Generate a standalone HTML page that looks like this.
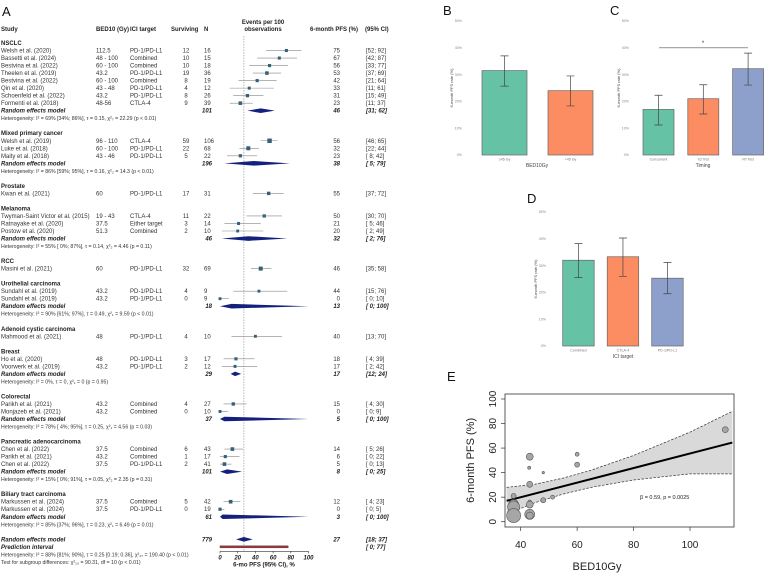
<!DOCTYPE html>
<html><head><meta charset="utf-8"><style>
html,body{margin:0;padding:0;background:#fff;}
svg{display:block;font-family:"Liberation Sans",sans-serif;}
</style></head><body>
<svg id="fig" width="764" height="575" viewBox="0 0 764 575" xmlns="http://www.w3.org/2000/svg">
<g id="forest"></g>
<g id="bars"></g>
<g id="scatter"></g>
</svg>
<script>
// ---------- Forest plot data ----------
const studyEst = [75,67,56,53,42,33,31,23, 56,32,23, 55, 50,21,20, 46, 44,0, 40, 18,17, 15,0, 14,6,5, 12,0];
const studyLo  = [52,42,33,37,21,11,15,11, 46,22,8, 37, 30,5,2, 35, 15,0, 13, 4,2, 4,0, 5,0,0, 4,0];
const studyHi  = [92,87,77,69,64,61,49,37, 65,44,42, 72, 70,46,49, 58, 76,10, 70, 39,42, 30,9, 26,22,13, 23,5];
const studyN   = [16,15,18,36,19,12,26,39, 106,68,22, 31, 22,14,10, 69, 9,9, 10, 17,12, 27,10, 43,17,41, 42,19];
const remEst = [46,38,32,13,17,5,8,3,27];
const remLo  = [31,5,2,0,12,0,0,0,18];
const remHi  = [62,79,76,100,24,100,25,100,37];
const predLo = 0, predHi = 77;
const forestTicks = [0,20,40,60,80,100];

// table rows (text)
const rows = [
 {t:'g',s:'NSCLC'},
 {t:'s',s:'Welsh et al. (2020)',b:'112.5',i:'PD-1/PD-L1',v:'12',n:'16',p:'75',c:'[52; 92]'},
 {t:'s',s:'Bassetti et al. (2024)',b:'48 - 100',i:'Combined',v:'10',n:'15',p:'67',c:'[42; 87]'},
 {t:'s',s:'Bestvina et al. (2022)',b:'60 - 100',i:'Combined',v:'10',n:'18',p:'56',c:'[33; 77]'},
 {t:'s',s:'Theelen et al. (2019)',b:'43.2',i:'PD-1/PD-L1',v:'19',n:'36',p:'53',c:'[37; 69]'},
 {t:'s',s:'Bestvina et al. (2022)',b:'60 - 100',i:'Combined',v:'8',n:'19',p:'42',c:'[21; 64]'},
 {t:'s',s:'Qin et al. (2020)',b:'43 - 48',i:'PD-1/PD-L1',v:'4',n:'12',p:'33',c:'[11; 61]'},
 {t:'s',s:'Schoenfeld et al. (2022)',b:'43.2',i:'PD-1/PD-L1',v:'8',n:'26',p:'31',c:'[15; 49]'},
 {t:'s',s:'Formenti et al. (2018)',b:'48-56',i:'CTLA-4',v:'9',n:'39',p:'23',c:'[11; 37]'},
 {t:'r',n:'101',p:'46',c:'[31; 62]'},
 {t:'h',s:'Heterogeneity: I² = 69% [34%; 86%], τ = 0.15, χ²₇ = 22.29 (p < 0.01)'},
 {t:'x'},
 {t:'g',s:'Mixed primary cancer'},
 {t:'s',s:'Welsh et al. (2019)',b:'96 - 110',i:'CTLA-4',v:'59',n:'106',p:'56',c:'[46; 65]'},
 {t:'s',s:'Luke et al. (2018)',b:'60 - 100',i:'PD-1/PD-L1',v:'22',n:'68',p:'32',c:'[22; 44]'},
 {t:'s',s:'Maity et al. (2018)',b:'43 - 46',i:'PD-1/PD-L1',v:'5',n:'22',p:'23',c:'[ 8; 42]'},
 {t:'r',n:'196',p:'38',c:'[ 5; 79]'},
 {t:'h',s:'Heterogeneity: I² = 86% [59%; 95%], τ = 0.16, χ²₂ = 14.3 (p < 0.01)'},
 {t:'x'},
 {t:'g',s:'Prostate'},
 {t:'s',s:'Kwan et al. (2021)',b:'60',i:'PD-1/PD-L1',v:'17',n:'31',p:'55',c:'[37; 72]'},
 {t:'x'},
 {t:'g',s:'Melanoma'},
 {t:'s',s:'Twyman-Saint Victor et al. (2015)',b:'19 - 43',i:'CTLA-4',v:'11',n:'22',p:'50',c:'[30; 70]'},
 {t:'s',s:'Ratnayake et al. (2020)',b:'37.5',i:'Either target',v:'3',n:'14',p:'21',c:'[ 5; 46]'},
 {t:'s',s:'Postow et al. (2020)',b:'51.3',i:'Combined',v:'2',n:'10',p:'20',c:'[ 2; 49]'},
 {t:'r',n:'46',p:'32',c:'[ 2; 76]'},
 {t:'h',s:'Heterogeneity: I² = 55% [ 0%; 87%], τ = 0.14, χ²₂ = 4.46 (p = 0.11)'},
 {t:'x'},
 {t:'g',s:'RCC'},
 {t:'s',s:'Masini et al. (2021)',b:'60',i:'PD-1/PD-L1',v:'32',n:'69',p:'46',c:'[35; 58]'},
 {t:'x'},
 {t:'g',s:'Urothelial carcinoma'},
 {t:'s',s:'Sundahl et al. (2019)',b:'43.2',i:'PD-1/PD-L1',v:'4',n:'9',p:'44',c:'[15; 76]'},
 {t:'s',s:'Sundahl et al. (2019)',b:'43.2',i:'PD-1/PD-L1',v:'0',n:'9',p:'0',c:'[ 0; 10]'},
 {t:'r',n:'18',p:'13',c:'[ 0; 100]'},
 {t:'h',s:'Heterogeneity: I² = 90% [61%; 97%], τ = 0.49, χ²₁ = 9.59 (p < 0.01)'},
 {t:'x'},
 {t:'g',s:'Adenoid cystic carcinoma'},
 {t:'s',s:'Mahmood et al. (2021)',b:'48',i:'PD-1/PD-L1',v:'4',n:'10',p:'40',c:'[13; 70]'},
 {t:'x'},
 {t:'g',s:'Breast'},
 {t:'s',s:'Ho et al. (2020)',b:'48',i:'PD-1/PD-L1',v:'3',n:'17',p:'18',c:'[ 4; 39]'},
 {t:'s',s:'Voorwerk et al. (2019)',b:'43.2',i:'PD-1/PD-L1',v:'2',n:'12',p:'17',c:'[ 2; 42]'},
 {t:'r',n:'29',p:'17',c:'[12; 24]'},
 {t:'h',s:'Heterogeneity: I² = 0%, τ = 0, χ²₁ = 0 (p = 0.95)'},
 {t:'x'},
 {t:'g',s:'Colorectal'},
 {t:'s',s:'Parikh et al. (2021)',b:'43.2',i:'Combined',v:'4',n:'27',p:'15',c:'[ 4; 30]'},
 {t:'s',s:'Monjazeb et al. (2021)',b:'43.2',i:'Combined',v:'0',n:'10',p:'0',c:'[ 0;  9]'},
 {t:'r',n:'37',p:'5',c:'[ 0; 100]'},
 {t:'h',s:'Heterogeneity: I² = 78% [ 4%; 95%], τ = 0.25, χ²₁ = 4.56 (p = 0.03)'},
 {t:'x'},
 {t:'g',s:'Pancreatic adenocarcinoma'},
 {t:'s',s:'Chen et al. (2022)',b:'37.5',i:'Combined',v:'6',n:'43',p:'14',c:'[ 5; 26]'},
 {t:'s',s:'Parikh et al. (2021)',b:'43.2',i:'Combined',v:'1',n:'17',p:'6',c:'[ 0; 22]'},
 {t:'s',s:'Chen et al. (2022)',b:'37.5',i:'PD-1/PD-L1',v:'2',n:'41',p:'5',c:'[ 0; 13]'},
 {t:'r',n:'101',p:'8',c:'[ 0; 25]'},
 {t:'h',s:'Heterogeneity: I² = 15% [ 0%; 91%], τ = 0.05, χ²₂ = 2.35 (p = 0.31)'},
 {t:'x'},
 {t:'g',s:'Biliary tract carcinoma'},
 {t:'s',s:'Markussen et al. (2024)',b:'37.5',i:'Combined',v:'5',n:'42',p:'12',c:'[ 4; 23]'},
 {t:'s',s:'Markussen et al. (2024)',b:'37.5',i:'PD-1/PD-L1',v:'0',n:'19',p:'0',c:'[ 0;  5]'},
 {t:'r',n:'61',p:'3',c:'[ 0; 100]'},
 {t:'h',s:'Heterogeneity: I² = 85% [37%; 96%], τ = 0.23, χ²₁ = 6.49 (p = 0.01)'},
 {t:'x'},
 {t:'r',n:'779',p:'27',c:'[18; 37]'},
 {t:'pi',c:'[ 0; 77]'},
 {t:'h',s:'Heterogeneity: I² = 88% [81%; 90%], τ = 0.25 [0.19; 0.36], χ²₂₇ = 190.40 (p < 0.01)'},
 {t:'h',s:'Test for subgroup differences: χ²₁₀ = 90.31, df = 10 (p < 0.01)'}
];

// ---------- Bar panels data ----------
const bCats = ['≥45 Gy','<45 Gy'];
const bVals = [31.5,24];
const bLo = [25.7,18.3];
const bHi = [37,29.5];
const cCats = ['Concurrent','ICI first','RT first'];
const cVals = [17,21,32.2];
const cLo = [11.2,15.3,26.1];
const cHi = [22.3,26.2,38];
const dCats = ['Combined','CTLA-4','PD-1/PD-L1'];
const dVals = [32,33.3,25.3];
const dLo = [25.5,26,19.5];
const dHi = [38.2,40.3,31.2];
const barTicks = [0,10,20,30,40,50];

// ---------- Scatter data ----------
const eBed = [112.5,60,60,43.2,43,48,43.2,37.5,51.3,48,43.2,43.2,37.5,37.5,37.5,43.2,43.2];
const ePfs = [75,55,46.5,53,44,40,30.5,21,20,17.5,16,14,14,12,5,6,5];
const eSize = [3,2,2.5,3.5,1.5,1.2,3,2.5,2,2.5,2,3.5,5,6,7,5,3.5];
const bandX  = [35,45,55,65,80,100,115];
const bandLo = [6,15.5,22.5,28,34,39,39];
const bandHi = [28,30.5,35.5,42,54,73,90];
const fitX = [35,115];
const fitY = [17,64.5];
const eXTicks = [40,60,80,100];
const eYTicks = [0,20,40,60,80,100];

const NS='http://www.w3.org/2000/svg';
function mk(tag, attrs, parent, txt){
  const e=document.createElementNS(NS,tag);
  for(const k in attrs) e.setAttribute(k,attrs[k]);
  if(txt!==undefined) e.textContent=txt;
  parent.appendChild(e); return e;
}
const fig=document.getElementById('fig');

// ---------- Forest ----------
const F=document.getElementById('forest');
const fx=v=>220+v*0.885;
const ry=i=>43+i*7.52;
const FS=6;
let lbl;
lbl=mk('text',{x:2,y:16,'font-size':13,fill:'#111'},F,'A');


const hdrs=[[1,'Study','start'],[96,'BED10 (Gy)','start'],[130,'ICI target','start'],[171,'Surviving','start'],[204,'N','start'],[310,'6-month PFS (%)','start'],[365,'(95% CI)','start']];
hdrs.forEach(h=>{
  const t=mk('text',{x:h[0],y:31,'font-size':FS,'font-weight':'bold','text-anchor':h[2],fill:'#222'},F,h[1]);
  
  
});
let t1=mk('text',{x:263,y:24,'font-size':FS,'font-weight':'bold','text-anchor':'middle',fill:'#222'},F,'Events per 100');


t1=mk('text',{x:263,y:31,'font-size':FS,'font-weight':'bold','text-anchor':'middle',fill:'#222'},F,'observations');



// reference dashed line at overall estimate
let ref=mk('line',{x1:fx(remEst[8]),x2:fx(remEst[8]),y1:36,y2:ry(67)+4,stroke:'#999','stroke-width':0.7,'stroke-dasharray':'1.5,1.2'},F);



let si=0, ri=0;
rows.forEach((r,i)=>{
  const y=ry(i), by=y+2;
  if(r.t==='g'){
    const t=mk('text',{x:1,y:by,'font-size':FS,'font-weight':'bold',fill:'#222'},F,r.s);
    
    
  } else if(r.t==='s'){
    const cols=[[1,r.s,'start'],[96,r.b,'start'],[130,r.i,'start'],[186,r.v,'middle'],[204,r.n,'start'],[340,r.p,'end']];
    cols.forEach(c=>{
      const t=mk('text',{x:c[0],y:by,'font-size':FS,'text-anchor':c[2],fill:'#333'},F,c[1]);
      
      
    });
    const ci=mk('text',{x:366,y:by,'font-size':FS,fill:'#333','xml:space':'preserve'},F,r.c);
    
    
    const l=mk('line',{x1:fx(studyLo[si]),x2:fx(studyHi[si]),y1:y,y2:y,stroke:'#888','stroke-width':0.6},F);
    
    
    const sz=2.2+Math.sqrt(studyN[si])*0.22;
    const sq=mk('rect',{x:fx(studyEst[si])-sz/2,y:y-sz/2,width:sz,height:sz,fill:'#34607a'},F);
    
    
    si++;
  } else if(r.t==='r'){
    const t=mk('text',{x:1,y:by,'font-size':FS,'font-weight':'bold','font-style':'italic',fill:'#222'},F,'Random effects model');
    
    
    const cols=[[212,r.n,'end'],[340,r.p,'end']];
    cols.forEach(c=>{
      const tt=mk('text',{x:c[0],y:by,'font-size':FS,'font-weight':'bold','font-style':'italic','text-anchor':c[2],fill:'#222'},F,c[1]);
      
      
    });
    const ci=mk('text',{x:366,y:by,'font-size':FS,'font-weight':'bold','font-style':'italic',fill:'#222','xml:space':'preserve'},F,r.c);
    
    
    const a=fx(remLo[ri]),b=fx(remHi[ri]),m=fx(remEst[ri]);
    const d=mk('polygon',{points:`${a},${y} ${m},${y-2.3} ${b},${y} ${m},${y+2.3}`,fill:'#14207d'},F);
    
    
    ri++;
  } else if(r.t==='h'){
    const t=mk('text',{x:1,y:by,'font-size':5.2,fill:'#333'},F,r.s);
    
    
  } else if(r.t==='pi'){
    const t=mk('text',{x:1,y:by,'font-size':FS,'font-weight':'bold','font-style':'italic',fill:'#222'},F,'Prediction interval');
    
    
    const ci=mk('text',{x:366,y:by,'font-size':FS,'font-weight':'bold','font-style':'italic',fill:'#222','xml:space':'preserve'},F,r.c);
    
    
    const pr=mk('rect',{x:fx(predLo),y:y-1,width:fx(predHi)-fx(predLo),height:2,fill:'#a33',stroke:'#333','stroke-width':0.4},F);
    
    
  }
});
// forest axis
const ay=ry(67)+4.5;
let ax=mk('line',{x1:fx(0),x2:fx(100),y1:ay,y2:ay,stroke:'#333','stroke-width':0.6},F);


forestTicks.forEach(v=>{
  const tk=mk('line',{x1:fx(v),x2:fx(v),y1:ay,y2:ay+2,stroke:'#333','stroke-width':0.6},F);
  
  
  const tl=mk('text',{x:fx(v),y:ay+8,'font-size':FS,'font-weight':'bold','font-style':'italic','text-anchor':'middle',fill:'#222'},F,v);
  
  
});
let xt=mk('text',{x:264,y:ay+15,'font-size':FS,'font-weight':'bold','text-anchor':'middle',fill:'#222'},F,'6-mo PFS (95% CI), %');



// ---------- Bar panels ----------
const BG=document.getElementById('bars');
const colors=['#66c2a5','#fc8d62','#8da0cb'];
function barPanel(o){
  const g=mk('g',{},BG);
  
  
  const yv=v=>o.y0-v*o.k;
  const pl=mk('text',{x:o.lx,y:o.ly,'font-size':13,fill:'#111'},g,o.letter);
  
  
  barTicks.forEach(v=>{
    const t=mk('text',{x:o.tx,y:yv(v)+1.2,'font-size':3.6,'text-anchor':'end',fill:'#888'},g,v+'%');
    
    
  });
  const yt=mk('text',{x:0,y:0,'font-size':4,'text-anchor':'middle',fill:'#444',transform:`translate(${o.tx-9},${yv(25)}) rotate(-90)`},g,'6-month PFS rate (%)');
  
  
  o.vals.forEach((v,i)=>{
    const x=o.x0+i*o.step;
    const r=mk('rect',{x:x,y:yv(v),width:o.w,height:o.y0-yv(v),fill:colors[i],stroke:'#666','stroke-width':0.7},g);
    
    
    const cx=x+o.w/2;
    const e=mk('path',{d:`M${cx-4},${yv(o.hi[i])}H${cx+4}M${cx},${yv(o.hi[i])}V${yv(o.lo[i])}M${cx-4},${yv(o.lo[i])}H${cx+4}`,stroke:'#444','stroke-width':0.7,fill:'none'},g);
    
    
    const cl=mk('text',{x:cx,y:o.y0+5.5,'font-size':3.6,'text-anchor':'middle',fill:'#777'},g,o.cats[i]);
    
    
  });
  const xtt=mk('text',{x:o.xtx,y:o.y0+12,'font-size':5,'text-anchor':'middle',fill:'#444'},g,o.xtitle);
  
  
  return {g,yv};
}
barPanel({name:'panel-b-bed10',letter:'B',lx:443,ly:15,tx:462,y0:155,k:2.68,x0:482,step:66,w:45,vals:bVals,lo:bLo,hi:bHi,cats:bCats,xtitle:'BED10Gy',xtx:537});
const pc=barPanel({name:'panel-c-timing',letter:'C',lx:610,ly:15,tx:629,y0:155,k:2.68,x0:643,step:44.8,w:31,vals:cVals,lo:cLo,hi:cHi,cats:cCats,xtitle:'Timing',xtx:703});
let sig=mk('line',{x1:659,x2:748,y1:pc.yv(40),y2:pc.yv(40),stroke:'#555','stroke-width':0.7},pc.g);


let st=mk('text',{x:703,y:pc.yv(40)-3,'font-size':6,'text-anchor':'middle',fill:'#333'},pc.g,'*');


barPanel({name:'panel-d-ici-target',letter:'D',lx:527,ly:203,tx:546,y0:346,k:2.68,x0:562.7,step:44.5,w:31.5,vals:dVals,lo:dLo,hi:dHi,cats:dCats,xtitle:'ICI target',xtx:623});

// ---------- Scatter ----------
const SG=document.getElementById('scatter');
const ex=v=>520.7+(v-40)*2.822;
const ey=v=>521.7-v*1.227;
let el=mk('text',{x:447,y:381,'font-size':13,fill:'#111'},SG,'E');


let clip=mk('clipPath',{id:'eclip'},SG);
mk('rect',{x:505,y:394,width:229,height:133},clip);
const pg=mk('g',{'clip-path':'url(#eclip)'},SG);
let bp='M'+bandX.map((x,i)=>ex(x)+','+ey(bandHi[i])).join('L')+'L'+bandX.slice().reverse().map((x,i)=>ex(x)+','+ey(bandLo[bandX.length-1-i])).join('L')+'Z';
let band=mk('path',{d:bp,fill:'#d9d9d9',stroke:'none'},pg);


let up=mk('path',{d:'M'+bandX.map((x,i)=>ex(x)+','+ey(bandHi[i])).join('L'),fill:'none',stroke:'#333','stroke-width':0.7,'stroke-dasharray':'2.5,1.5'},pg);


let lo=mk('path',{d:'M'+bandX.map((x,i)=>ex(x)+','+ey(bandLo[i])).join('L'),fill:'none',stroke:'#333','stroke-width':0.7,'stroke-dasharray':'2.5,1.5'},pg);


let fit=mk('line',{x1:ex(fitX[0]),y1:ey(fitY[0]),x2:ex(fitX[1]),y2:ey(fitY[1]),stroke:'#000','stroke-width':2},pg);


eBed.forEach((b,i)=>{
  const c=mk('circle',{cx:ex(b),cy:ey(ePfs[i]),r:eSize[i],fill:'#a6a6a6',stroke:'#555','stroke-width':0.6},pg);
  
  
});
let box=mk('rect',{x:505,y:394,width:229,height:133,fill:'none',stroke:'#333','stroke-width':0.8},SG);


eXTicks.forEach(v=>{
  const tk=mk('line',{x1:ex(v),x2:ex(v),y1:527,y2:531,stroke:'#333','stroke-width':0.7},SG);
  
  
  const tl=mk('text',{x:ex(v),y:548,'font-size':10,'text-anchor':'middle',fill:'#222'},SG,v);
  
  
});
eYTicks.forEach(v=>{
  const tk=mk('line',{x1:501,x2:505,y1:ey(v),y2:ey(v),stroke:'#333','stroke-width':0.7},SG);
  
  
  const tl=mk('text',{x:0,y:0,'font-size':10,'text-anchor':'middle',fill:'#222',transform:`translate(496,${ey(v)}) rotate(-90)`},SG,v);
  
  
});
let eyt=mk('text',{x:0,y:0,'font-size':11,'text-anchor':'middle',fill:'#222',transform:`translate(474,${ey(50)}) rotate(-90)`},SG,'6-month PFS (%)');


let ext=mk('text',{x:597,y:570,'font-size':11,'text-anchor':'middle',fill:'#222'},SG,'BED10Gy');


let ann=mk('text',{x:640,y:499,'font-size':5.5,fill:'#222'},SG,'β = 0.59, p = 0.0025');


</script>
</body></html>
